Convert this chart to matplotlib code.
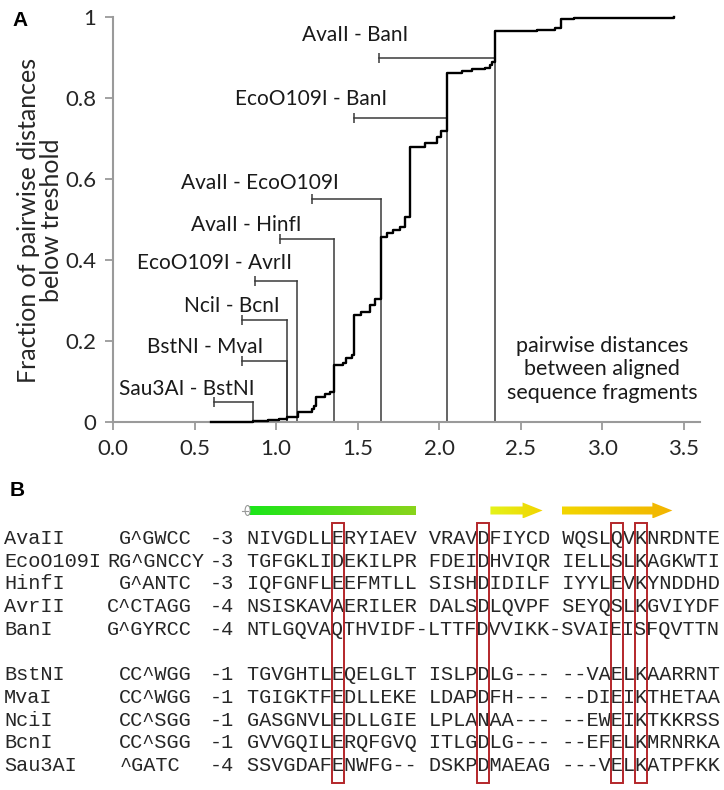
import numpy as np
import matplotlib
matplotlib.use("Agg")
import matplotlib.pyplot as plt
from matplotlib.patches import Polygon, Rectangle, Ellipse
from matplotlib.colors import LinearSegmentedColormap

# ---- panel A data: cumulative fraction of pairwise distances ----
cdf_x = [0.60, 0.86, 0.95, 1.02, 1.07, 1.135, 1.22, 1.235, 1.245, 1.30, 1.33,
         1.356, 1.41, 1.43, 1.465, 1.48, 1.52, 1.577, 1.607, 1.644, 1.68, 1.72,
         1.76, 1.79, 1.82, 1.915, 1.985, 2.01, 2.05, 2.14, 2.20, 2.28, 2.31,
         2.325, 2.34, 2.60, 2.71, 2.75, 2.83, 3.44]
cdf_y = [0.0, 0.002, 0.004, 0.008, 0.012, 0.025, 0.032, 0.040, 0.062, 0.068, 0.074,
         0.141, 0.146, 0.158, 0.165, 0.264, 0.272, 0.288, 0.303, 0.457, 0.466, 0.474,
         0.482, 0.505, 0.680, 0.690, 0.703, 0.718, 0.862, 0.867, 0.872, 0.875, 0.881,
         0.888, 0.965, 0.968, 0.972, 0.995, 0.998, 1.0]

pair_names = ["Sau3AI - BstNI", "BstNI - MvaI", "NciI - BcnI", "EcoO109I - AvrII",
              "AvaII - HinfI", "AvaII - EcoO109I", "EcoO109I - BanI", "AvaII - BanI"]
pair_dist = [0.86, 1.067, 1.067, 1.13, 1.356, 1.644, 2.05, 2.34]
bracket_y = [0.05, 0.15, 0.252, 0.349, 0.451, 0.55, 0.751, 0.90]
bracket_start = [0.62, 0.79, 0.79, 0.87, 1.025, 1.22, 1.48, 1.63]
label_x = [0.45, 0.567, 0.727, 0.62, 0.819, 0.90, 1.215, 1.485]
label_y = [0.081, 0.185, 0.286, 0.392, 0.486, 0.591, 0.797, 0.955]

x_ticks = [0.0, 0.5, 1.0, 1.5, 2.0, 2.5, 3.0, 3.5]
y_ticks = [0, 0.2, 0.4, 0.6, 0.8, 1]
y_ticklabels = ["0", "0.2", "0.4", "0.6", "0.8", "1"]

# ---- panel B data: alignment ----
enzymes = ["AvaII", "EcoO109I", "HinfI", "AvrII", "BanI",
           "BstNI", "MvaI", "NciI", "BcnI", "Sau3AI"]
sites = ["G^GWCC", "RG^GNCCY", "G^ANTC", "C^CTAGG", "G^GYRCC",
         "CC^WGG", "CC^WGG", "CC^SGG", "CC^SGG", "^GATC"]
site_col = [9.5, 8.5, 9.5, 8.5, 8.5, 9.5, 9.5, 9.5, 9.5, 9.5]
shifts = ["-3", "-3", "-3", "-4", "-4", "-1", "-1", "-1", "-1", "-4"]
seqs = [
    "NIVGDLLERYIAEV VRAVDFIYCD WQSLQVKNRDNTE",
    "TGFGKLIDEKILPR FDEIDHVIQR IELLSLKAGKWTI",
    "IQFGNFLEEFMTLL SISHDIDILF IYYLEVKYNDDHD",
    "NSISKAVAERILER DALSDLQVPF SEYQSLKGVIYDF",
    "NTLGQVAQTHVIDF-LTTFDVVIKK-SVAIEISFQVTTN",
    "TGVGHTLEQELGLT ISLPDLG--- --VAELKAARRNT",
    "TGIGKTFEDLLEKE LDAPDFH--- --DIEIKTHETAA",
    "GASGNVLEDLLGIE LPLANAA--- --EWEIKTKKRSS",
    "GVVGQILERQFGVQ ITLGDLG--- --EFELKMRNRKA",
    "SSVGDAFENWFG-- DSKPDMAEAG ---VELKATPFKK",
]
row_index = [0, 1, 2, 3, 4, 6, 7, 8, 9, 10]
boxed_cols = [7, 19, 30, 32]
# secondary structure: (kind, first col, last col, colour left, colour right)
sec_struct = [("helix", 0, 13.9, "#19e619", "#8ad41c"),
              ("strand", 20.1, 24.4, "#e4f31a", "#f2d400"),
              ("strand", 26.0, 35.1, "#f2d600", "#f2b400")]

W, H = 724, 790
fig = plt.figure(figsize=(W / 100, H / 100), dpi=100)
plt.rcParams["font.family"] = ["Lato", "DejaVu Sans"]

# ================= panel A =================
ax = fig.add_axes([113 / W, 1 - 422 / H, (700 - 113) / W, (422 - 17) / H])
ax.step(cdf_x, cdf_y, where="post", color="black", lw=1.7, clip_on=False, zorder=3)

line_c = "#3a3a3a"
for name, d, by, bs, lx, ly in zip(pair_names, pair_dist, bracket_y, bracket_start,
                                   label_x, label_y):
    ax.plot([d, d], [0, by], color=line_c, lw=1.1, zorder=2)
    ax.plot([bs, d], [by, by], color=line_c, lw=1.1, zorder=2)
    ax.plot([bs], [by], marker="|", ms=7, mew=1.1, color=line_c)
    ax.text(lx, ly, name, ha="center", va="center", fontsize=15, color="#1a1a1a")

ax.text(3.0, 0.13, "pairwise distances\nbetween aligned\nsequence fragments",
        ha="center", va="center", fontsize=15.5, linespacing=1.2, color="#1a1a1a")

ax.set_xlim(0, 3.6)
ax.set_ylim(0, 1)
ax.set_xticks(x_ticks)
ax.set_xticklabels([f"{t:.1f}" for t in x_ticks])
ax.set_yticks(y_ticks)
ax.set_yticklabels(y_ticklabels)
for s in ["top", "right"]:
    ax.spines[s].set_visible(False)
for s in ["left", "bottom"]:
    ax.spines[s].set_color("#9a9a9a")
    ax.spines[s].set_linewidth(1.5)
ax.tick_params(direction="out", length=6, width=1.3, color="#9a9a9a",
               labelsize=16, labelcolor="#262626", pad=6)
ax.patch.set_alpha(0)

fig.text(40 / W, 1 - 220 / H, "Fraction of pairwise distances\nbelow treshold",
         rotation=90, ha="center", va="center", fontsize=18, color="#262626",
         linespacing=1.0)
fig.text(20 / W, 1 - 21 / H, "A", ha="center", va="center", fontsize=15,
         fontweight="bold", family="Liberation Sans")
fig.text(17 / W, 1 - 491 / H, "B", ha="center", va="center", fontsize=15,
         fontweight="bold", family="Liberation Sans")

# ================= panel B =================
bx = fig.add_axes([0, 0, 1, 1])
bx.set_axis_off()
cw, x0 = 12.13, 4.0          # character width and left margin (px)
seq0 = 20                    # column where the sequence starts
y_first, dy = 538, 22.7


def cx(col):
    return x0 + col * cw


mono = dict(family="Liberation Mono", fontsize=14.55, color="#262626",
            va="baseline", ha="left")
for name, site, sc, sh, seq, ri in zip(enzymes, sites, site_col, shifts, seqs, row_index):
    yb = y_first + ri * dy + 6
    bx.text(cx(0), yb, name, **mono)
    bx.text(cx(sc), yb, site, **mono)
    bx.text(cx(17), yb, sh, **mono)
    bx.text(cx(seq0), yb, seq, **mono)

for c in boxed_cols:
    bx.add_patch(Rectangle((cx(seq0 + c), 523), cw, 783 - 523, fill=False,
                           edgecolor="#b3262a", lw=1.4, zorder=4))


def gradient_fill(patch, c0, c1):
    bx.add_patch(patch)
    verts = patch.get_path().vertices
    if hasattr(patch, "get_patch_transform"):
        verts = patch.get_patch_transform().transform(verts)
    xa, xb = verts[:, 0].min(), verts[:, 0].max()
    ya, yb = verts[:, 1].min(), verts[:, 1].max()
    cmap = LinearSegmentedColormap.from_list("g", [c0, c1])
    im = bx.imshow(np.linspace(0, 1, 256)[None, :], cmap=cmap, aspect="auto",
                   extent=[xa, xb, yb, ya], zorder=2)
    im.set_clip_path(patch)


yss = 510.5
for kind, a, b, c0, c1 in sec_struct:
    xa, xb = cx(seq0 + a), cx(seq0 + b)
    if kind == "helix":
        p = Rectangle((xa, yss - 5), xb - xa, 10, facecolor="none", edgecolor="none")
        gradient_fill(p, c0, c1)
        bx.add_patch(Ellipse((xa + 1, yss), 5, 10, facecolor="white",
                             edgecolor="#9a9a9a", lw=0.8, zorder=3))
        bx.plot([xa - 5, xa + 1], [yss, yss], color="#9a9a9a", lw=0.8, zorder=3)
    else:
        head = 20
        verts = [(xa, yss - 4), (xb - head, yss - 4), (xb - head, yss - 8),
                 (xb, yss), (xb - head, yss + 8), (xb - head, yss + 4), (xa, yss + 4)]
        p = Polygon(verts, closed=True, facecolor="none", edgecolor="none")
        gradient_fill(p, c0, c1)

bx.set_xlim(0, W)
bx.set_ylim(H, 0)

fig.savefig("out.png", dpi=100)
